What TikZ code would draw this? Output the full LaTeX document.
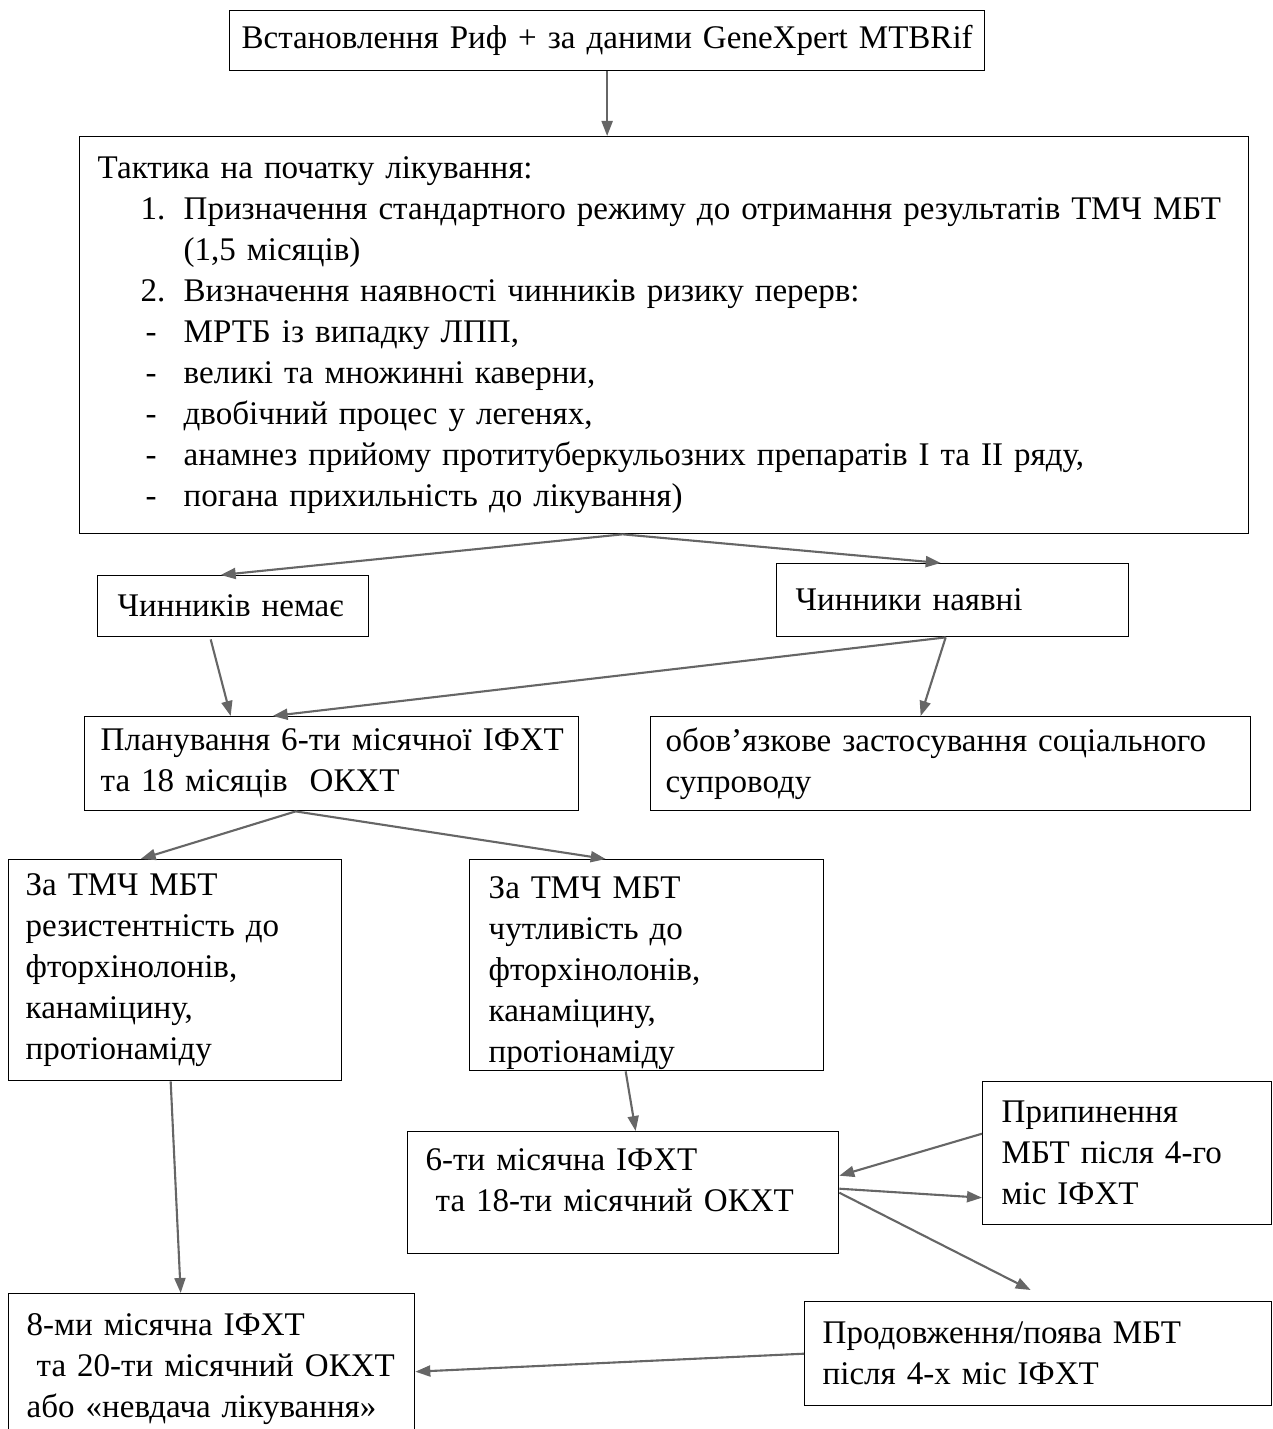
\documentclass[tikz,border=0pt]{standalone}
\usepackage{fontspec}
\setmainfont{Liberation Serif}
\usepackage{tikz}
\usetikzlibrary{arrows.meta,calc}
\tikzstyle{box}=[draw,
                 line width=0.8pt,
                 anchor=north west,
                 align=left,
                 inner ysep=0pt,
                 font=\fontsize{18.8}{23.3}\selectfont]
\tikzstyle{link}=[draw=black!60,
                  line width=1.2pt,
                  -{Triangle[length=0.3cm,width=0.22cm]}]
\begin{document}
\begin{tikzpicture}[x=0.02cm,y=-0.02cm]
    \useasboundingbox (0,0) rectangle (1272,1429);
    \node[box, align=center, text width=14.9cm, inner xsep=0.1cm, minimum height=1.2cm] (start) at (229,10) {Встановлення Риф + за даними GeneXpert MTBRif};
    \node[box, text width=22.66cm, inner xsep=0.36cm, minimum height=7.94cm] (tactic) at (79,136)
      {Тактика на початку лікування:\\
       \hspace*{0.86cm}\makebox[0.86cm][l]{1.}\mbox{Призначення стандартного режиму до отримання результатів ТМЧ МБТ}\\
       \hspace*{1.72cm}(1,5 місяців)\\
       \hspace*{0.86cm}\makebox[0.86cm][l]{2.}Визначення наявності чинників ризику перерв:\\
       \hspace*{0.96cm}\makebox[0.76cm][l]{-}МРТБ із випадку ЛПП,\\
       \hspace*{0.96cm}\makebox[0.76cm][l]{-}великі та множинні каверни,\\
       \hspace*{0.96cm}\makebox[0.76cm][l]{-}двобічний процес у легенях,\\
       \hspace*{0.96cm}\makebox[0.76cm][l]{-}анамнез прийому протитуберкульозних препаратів І та ІІ ряду,\\
       \hspace*{0.96cm}\makebox[0.76cm][l]{-}погана прихильність до лікування)};
    \node[box, text width=4.62cm, inner xsep=0.4cm, minimum height=1.22cm] (nofactors) at (97,575) {\mbox{Чинників немає}};
    \node[box, text width=6.28cm, inner xsep=0.38cm, minimum height=1.46cm] (factors) at (776,563) {Чинники наявні};
    \node[box, text width=9.24cm, inner xsep=0.32cm, minimum height=1.88cm] (plan) at (84,716) {\mbox{Планування 6-ти місячної ІФХТ}\\та 18 місяців~ ОКХТ};
    \node[box, text width=11.4cm, inner xsep=0.3cm, minimum height=1.88cm] (social) at (650,716) {\mbox{обов’язкове застосування соціального}\\супроводу};
    \node[box, text width=5.98cm, inner xsep=0.34cm, minimum height=4.42cm] (resist) at (8,859) {За ТМЧ МБТ\\резистентність до\\фторхінолонів,\\канаміцину,\\протіонаміду};
    \node[box, text width=6.32cm, inner xsep=0.38cm, minimum height=4.22cm] (sensit) at (469,859) {\rule{0pt}{0.77cm}За ТМЧ МБТ\\чутливість до\\фторхінолонів,\\канаміцину,\\протіонаміду};
    \node[box, text width=7.9cm, inner xsep=0.36cm, minimum height=2.44cm] (sixm) at (407,1131) {6-ти місячна ІФХТ\\\hspace*{0.2cm}та 18-ти місячний ОКХТ\rule[-0.5cm]{0pt}{0pt}};
    \node[box, text width=5.02cm, inner xsep=0.38cm, minimum height=2.86cm] (stop) at (982,1081) {Припинення\\МБТ після 4-го\\міс ІФХТ};
    \node[box, text width=7.4cm, inner xsep=0.36cm, minimum height=3.0cm] (eight) at (8,1293) {8-ми місячна ІФХТ\\\hspace*{0.2cm}\mbox{та 20-ти місячний ОКХТ}\\\mbox{або «невдача лікування»}};
    \node[box, text width=8.62cm, inner xsep=0.36cm, minimum height=2.08cm] (cont) at (804,1301) {Продовження/поява МБТ\\після 4-х міс ІФХТ};

    \path[link] (start.south) -- (start.south |- tactic.north);
    \path[link] ([xshift=-0.83cm]tactic.south) -- ([xshift=-0.25cm]nofactors.north);
    \path[link] ([xshift=-0.83cm]tactic.south) -- ([xshift=-0.24cm]factors.north);
    \path[link] ([xshift=-0.45cm,yshift=-0.04cm]nofactors.south) -- ([xshift=-2.02cm]plan.north);
    \path[link] ([xshift=-0.14cm]factors.south) -- ([xshift=-1.18cm]plan.north);
    \path[link] ([xshift=-0.14cm]factors.south) -- ([xshift=-0.6cm]social.north);
    \path[link] ([xshift=-0.72cm]plan.south) -- ([xshift=-0.69cm]resist.north);
    \path[link] ([xshift=-0.72cm]plan.south) -- ([xshift=-0.82cm]sensit.north);
    \path[link] ([xshift=-0.09cm]resist.south) -- ([xshift=-0.62cm]eight.north);
    \path[link] ([xshift=-0.42cm]sensit.south) -- ([xshift=0.25cm]sixm.north);
    \path[link] ([yshift=0.39cm]stop.west) -- ([yshift=0.34cm]sixm.east);
    \path[link] ([yshift=0.08cm]sixm.east) -- ([yshift=-0.89cm]stop.west);
    \path[link] (sixm.east) -- ([xshift=-0.15cm,yshift=0.22cm]cont.north);
    \path[link] (cont.west) -- ([yshift=-0.06cm]eight.east);
  \end{tikzpicture}
\end{document}
